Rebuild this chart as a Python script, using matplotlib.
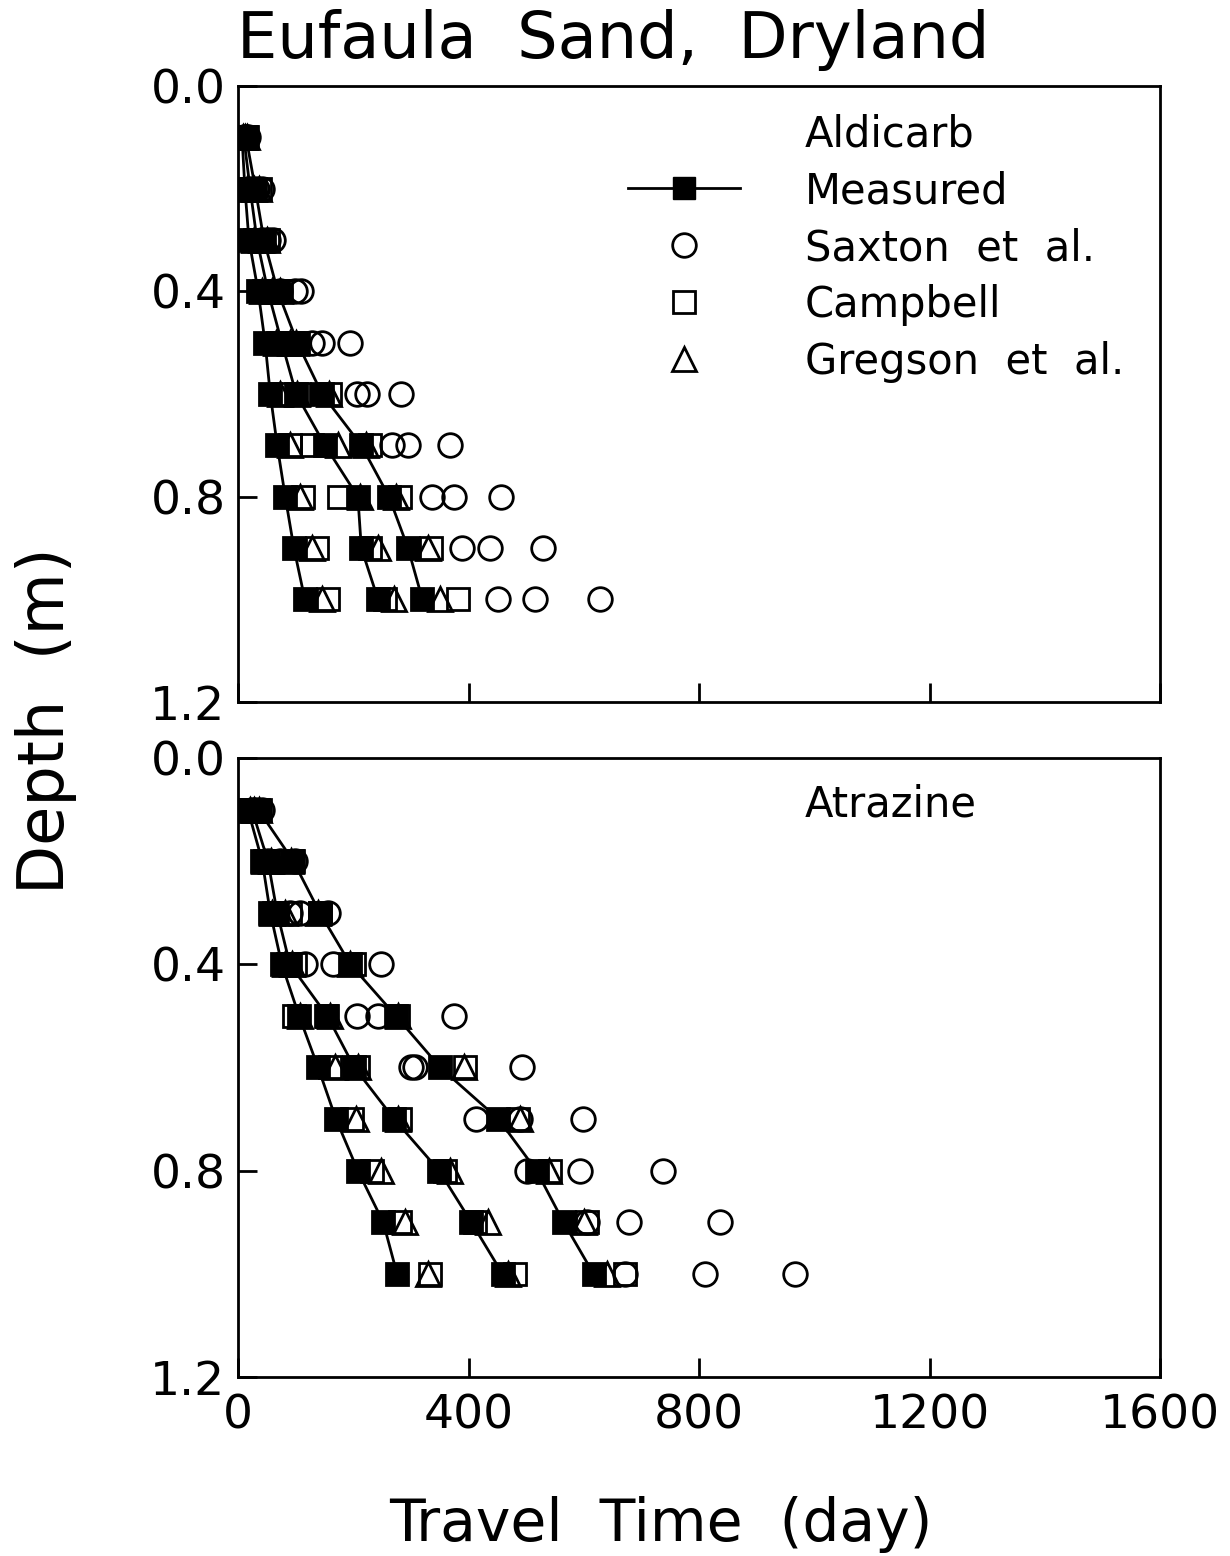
import matplotlib
matplotlib.use("Agg")
import matplotlib.pyplot as plt
from matplotlib.lines import Line2D
import numpy as np

plt.rcParams['font.family'] = ['DejaVu Sans']

# Depth of each sampling layer (m)
depth = [0.1, 0.2, 0.3, 0.4, 0.5, 0.6, 0.7, 0.8, 0.9, 1.0]

# ---- Aldicarb: travel time (day) to each depth, three profiles ----
ald_measured = [
    [7, 12, 19, 35, 47, 56, 68, 82, 97, 116],
    [10, 21, 33, 52, 76, 101, 151, 208, 214, 243],
    [14, 30, 45, 69, 103, 146, 214, 262, 295, 320],
]
# simulated, one row per depth, one column per profile
ald_saxton = [
    [10, 14, 18], [21, 33, 42], [42, 52, 61], [73, 99, 109], [129, 146, 195],
    [207, 224, 283], [268, 295, 368], [337, 375, 457], [389, 438, 530], [452, 516, 629],
]
ald_campbell = [
    [9, 12, 15], [16, 28, 38], [30, 42, 52], [45, 61, 75], [69, 94, 104],
    [76, 105, 160], [90, 129, 229], [113, 175, 281], [137, 229, 335], [156, 255, 382],
]
ald_gregson = [
    [8, 12, 15], [15, 27, 37], [28, 40, 50], [42, 59, 73], [66, 90, 101],
    [73, 103, 158], [90, 174, 222], [108, 212, 274], [129, 243, 330], [146, 271, 351],
]

# ---- Atrazine ----
atr_measured = [
    [17, 42, 56, 76, 106, 139, 170, 208, 252, 276],
    [24, 52, 68, 90, 155, 202, 271, 349, 405, 459],
    [35, 96, 142, 195, 274, 351, 452, 518, 565, 617],
]
atr_saxton = [
    [24, 31, 42], [52, 73, 99], [90, 108, 156], [116, 165, 248], [207, 243, 374],
    [300, 308, 493], [413, 490, 598], [502, 594, 737], [606, 679, 837], [672, 811, 966],
]
atr_campbell = [
    [21, 28, 38], [47, 59, 94], [63, 90, 142], [87, 99, 201], [97, 153, 278],
    [160, 208, 394], [198, 281, 486], [233, 360, 542], [281, 412, 606], [334, 481, 672],
]
atr_gregson = [
    [20, 27, 36], [45, 57, 92], [59, 82, 139], [82, 94, 195], [108, 160, 278],
    [168, 208, 392], [205, 278, 490], [248, 368, 539], [290, 434, 600], [330, 469, 640],
]

x_ticks = [0, 400, 800, 1200, 1600]
y_ticks = [0.0, 0.4, 0.8, 1.2]
y_ticklabels = ['0.0', '0.4', '0.8', '1.2']

LW = 2.0
MS_SQ = 16
MS_CI = 17
MS_TR = 17


def draw_panel(ax, measured, saxton, campbell, gregson):
    sax = np.array(saxton)
    camp = np.array(campbell)
    greg = np.array(gregson)
    for j in range(sax.shape[1]):
        ax.plot(sax[:, j], depth, ls='none', marker='o', ms=MS_CI,
                mfc='none', mec='black', mew=LW, zorder=3)
        ax.plot(camp[:, j], depth, ls='none', marker='s', ms=MS_SQ,
                mfc='none', mec='black', mew=LW, zorder=3)
        ax.plot(greg[:, j], depth, ls='none', marker='^', ms=MS_TR,
                mfc='none', mec='black', mew=LW, zorder=3)
    # measured profiles drawn last so the filled squares sit on top
    for prof in measured:
        ax.plot(prof, depth, color='black', lw=LW, marker='s', ms=MS_SQ,
                mfc='black', mec='black', mew=LW, zorder=4)

    ax.set_xlim(0, 1600)
    ax.set_ylim(1.2, 0.0)
    ax.set_xticks(x_ticks)
    ax.set_yticks(y_ticks)
    ax.set_yticklabels(y_ticklabels)
    ax.tick_params(axis='both', direction='in', length=14, width=LW,
                   labelsize=34, top=False, right=False)
    ax.tick_params(axis='y', pad=9)
    ax.tick_params(axis='x', pad=12)
    for sp in ax.spines.values():
        sp.set_linewidth(LW)


fig = plt.figure(figsize=(12.3, 15.56), dpi=100)
ax1 = fig.add_axes([0.1935, 0.5488, 0.7496, 0.3959])
ax2 = fig.add_axes([0.1935, 0.1150, 0.7496, 0.3979])

draw_panel(ax1, ald_measured, ald_saxton, ald_campbell, ald_gregson)
draw_panel(ax2, atr_measured, atr_saxton, atr_campbell, atr_gregson)
ax1.tick_params(axis='x', labelbottom=False)

handles = [
    Line2D([], [], ls='none'),
    Line2D([], [], color='black', lw=LW, marker='s', ms=MS_SQ,
           mfc='black', mec='black'),
    Line2D([], [], ls='none', marker='o', ms=MS_CI, mfc='none',
           mec='black', mew=LW),
    Line2D([], [], ls='none', marker='s', ms=MS_SQ, mfc='none',
           mec='black', mew=LW),
    Line2D([], [], ls='none', marker='^', ms=MS_TR, mfc='none',
           mec='black', mew=LW),
]
labels = ['Aldicarb', 'Measured', 'Saxton  et  al.', 'Campbell', 'Gregson  et  al.']
ax1.legend(handles, labels, loc='upper left', bbox_to_anchor=(0.40, 0.99),
           frameon=False, fontsize=30, handlelength=2.7, handletextpad=1.55,
           labelspacing=0.36, borderpad=0, numpoints=1)

ax2.text(0.615, 0.925, 'Atrazine', transform=ax2.transAxes, fontsize=30,
         ha='left', va='center')

fig.text(0.193, 0.974, 'Eufaula  Sand,  Dryland', fontsize=46,
         ha='left', va='center')
fig.text(0.037, 0.537, 'Depth  (m)', fontsize=46, rotation=90,
         ha='center', va='center')
fig.text(0.537, 0.02, 'Travel  Time  (day)', fontsize=42,
         ha='center', va='center')

fig.savefig('out.png', dpi=100)
